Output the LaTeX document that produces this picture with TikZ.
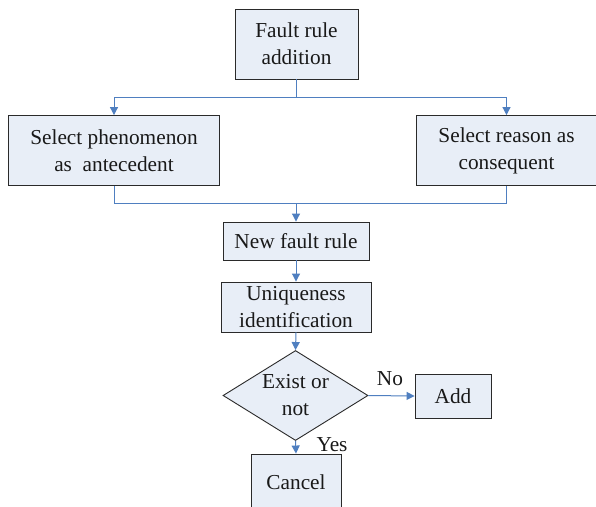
\documentclass[tikz,border=0pt]{standalone}
\usepackage{fontspec}
\setmainfont{Liberation Serif}
\usetikzlibrary{shapes.geometric,arrows.meta}
\definecolor{boxfill}{HTML}{E8EEF7}
\definecolor{lineblue}{HTML}{4F7FC0}
\definecolor{boxline}{HTML}{2A2A2A}
\begin{document}
\begin{tikzpicture}[x=1pt,y=-1pt,
  txt/.style={font=\fontsize{21.3}{27}\selectfont, text=black!90},
  box/.style={txt, draw=boxline, fill=boxfill, line width=0.9pt, align=center, inner sep=0pt, rectangle},
  dec/.style={txt, draw=boxline, fill=boxfill, line width=0.9pt, align=center, inner sep=0pt, diamond, aspect=1.61},
  conn/.style={draw=lineblue, line width=1pt},
  arr/.style={conn, -{Triangle[length=8pt,width=8pt]}},
  lab/.style={txt, inner sep=0pt}
]
\clip (0,0) rectangle (596,506);
\fill[white] (0,0) rectangle (596,506);

\node[box, minimum width=123pt, minimum height=70pt] (top) at (296.5,44) {Fault rule\\addition};
\node[box, minimum width=211pt, minimum height=70pt] (left) at (114,150.5) {Select phenomenon\\as\ \ antecedent};
\node[box, minimum width=180pt, minimum height=70pt] (right) at (506.5,150.5) {Select reason as\\consequent};
\node[box, minimum width=146pt, minimum height=38pt] (new) at (296,241) {New fault rule};
\node[box, minimum width=150pt, minimum height=50pt] (uniq) at (296,307) {Uniqueness\\identification};
\node[dec, minimum width=145pt, minimum height=90pt] (exist) at (295.5,395.5) {Exist or\\not};
\node[box, minimum width=76pt, minimum height=44pt] (add) at (453,396) {Add};
\node[box, minimum width=90pt, minimum height=56pt] (cancel) at (296,482) {Cancel};

\coordinate (split) at (296.5,97);
\coordinate (merge) at (296,203);

\draw[conn] (top.south) -- (split);
\draw[arr] (split) -| (left.north);
\draw[arr] (split) -| (right.north);
\draw[conn] (left.south) |- (merge);
\draw[conn] (right.south) |- (merge);
\draw[arr] (merge) -- (new.north);
\draw[arr] (new.south) -- (uniq.north);
\draw[arr] (uniq.south) -- (exist.north);
\draw[arr] (exist.east) -- (add.west);
\draw[arr] (exist.south) -- (cancel.north);

\node[lab] (no) at (390,379) {No};
\node[lab] (yes) at (332,445) {Yes};
\end{tikzpicture}
\end{document}
